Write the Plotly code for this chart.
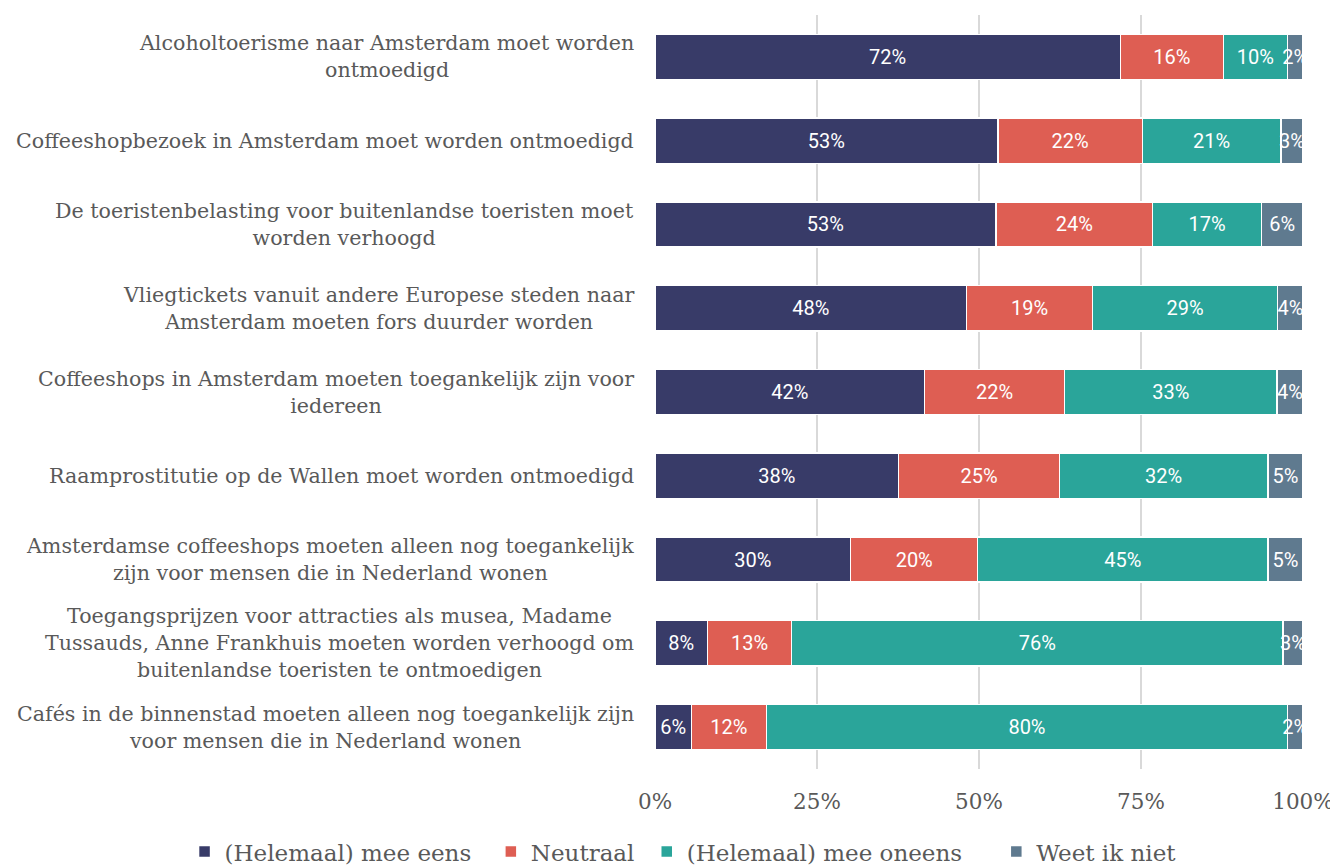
import plotly.graph_objects as go

stellingen = [
    "Alcoholtoerisme naar Amsterdam moet worden<br>ontmoedigd",
    "Coffeeshopbezoek in Amsterdam moet worden ontmoedigd",
    "De toeristenbelasting voor buitenlandse toeristen moet<br>worden verhoogd",
    "Vliegtickets vanuit andere Europese steden naar<br>Amsterdam moeten fors duurder worden",
    "Coffeeshops in Amsterdam moeten toegankelijk zijn voor<br>iedereen",
    "Raamprostitutie op de Wallen moet worden ontmoedigd",
    "Amsterdamse coffeeshops moeten alleen nog toegankelijk<br>zijn voor mensen die in Nederland wonen",
    "Toegangsprijzen voor attracties als musea, Madame<br>Tussauds, Anne Frankhuis moeten worden verhoogd om<br>buitenlandse toeristen te ontmoedigen",
    "Cafés in de binnenstad moeten alleen nog toegankelijk zijn<br>voor mensen die in Nederland wonen",
]
eens = [71.8, 52.9, 52.6, 48.1, 41.6, 37.6, 30.2, 8.1, 5.6]
neutraal = [15.9, 22.3, 24.2, 19.4, 21.6, 24.8, 19.6, 13.0, 11.6]
oneens = [9.9, 21.4, 16.8, 28.6, 32.8, 32.2, 44.8, 75.8, 80.4]
weet_niet = [2.4, 3.4, 6.4, 3.9, 4.0, 5.4, 5.4, 3.1, 2.4]

x_ticks = [0, 25, 50, 75, 100]
x_ticktext = ["0%", "25%", "50%", "75%", "100%"]

nb = "\u00a0"  # a bit of extra room between legend entries
series = [
    ("(Helemaal) mee eens" + nb * 2, eens, "#383b68"),
    ("Neutraal" + nb, neutraal, "#de5e53"),
    ("(Helemaal) mee oneens" + nb * 4, oneens, "#2aa59a"),
    ("Weet ik niet", weet_niet, "#5f7a8f"),
]

serif = "DejaVu Serif"
grijs = "#595959"

fig = go.Figure()
for naam, waarden, kleur in series:
    fig.add_bar(
        y=stellingen, x=waarden, name=naam, orientation="h",
        marker=dict(color=kleur, line=dict(color="white", width=1.5)),
        text=waarden, texttemplate="%{x:.0f}%", textposition="inside",
        insidetextanchor="middle", constraintext="none", textangle=0,
        textfont=dict(family="Roboto", size=20, color="white"),
    )

# category labels, centred per line like the original
for s in stellingen:
    fig.add_annotation(
        x=-0.029, xref="paper", y=s, yref="y", text=s, showarrow=False,
        xanchor="right", align="center",
        font=dict(family=serif, size=20.6, color=grijs),
    )

# page body has an 8px margin, so the figure is 8px smaller each way
fig.update_layout(
    barmode="stack", bargap=0.46,
    width=1330, height=858,
    margin=dict(l=647, r=35, t=7, b=97, autoexpand=False),
    plot_bgcolor="white", paper_bgcolor="white",
    showlegend=True,
    legend=dict(
        orientation="h", x=-0.726, xanchor="left",
        y=-0.081, yanchor="top",
        font=dict(family=serif, size=23, color=grijs),
        itemwidth=30, traceorder="normal",
    ),
)
fig.update_xaxes(
    range=[0, 100], tickvals=x_ticks, ticktext=x_ticktext,
    showgrid=True, gridcolor="#d9d9d9", gridwidth=1.5, zeroline=False,
    tickfont=dict(family=serif, size=21.5, color=grijs),
    ticklabelstandoff=17, automargin=False,
)
fig.update_yaxes(autorange="reversed", showticklabels=False, showgrid=False,
                 automargin=False)

fig.write_html("out.html")
